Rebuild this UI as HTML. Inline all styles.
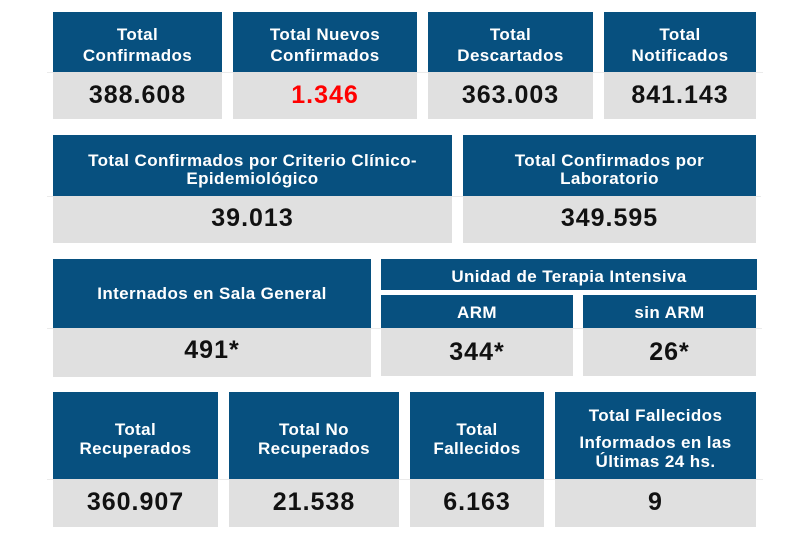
<!DOCTYPE html>
<html>
<head>
<meta charset="utf-8">
<style>
  html, body { margin:0; padding:0; }
  body { width:800px; height:535px; background:#ffffff; position:relative; overflow:hidden;
         font-family:"Liberation Sans", Arial, sans-serif; }
  .h { position:absolute; background:#07507f; }
  .b { position:absolute; background:#e0e0e0; }
  .t { position:absolute; height:20px; line-height:20px; color:#ffffff; font-weight:bold;
       font-size:17px; letter-spacing:0.4px; text-align:center; white-space:nowrap; }
  .n { position:absolute; height:30px; line-height:30px; color:#111111; font-weight:bold;
       font-size:25px; letter-spacing:1px; text-align:center; white-space:nowrap; }
  .ln { position:absolute; height:1px; background:#ebebeb; }
</style>
</head>
<body>

<!-- faint guide lines -->
<div class="ln" style="left:47px;width:716px;top:72px;"></div>
<div class="ln" style="left:47px;width:714px;top:196px;"></div>
<div class="ln" style="left:47px;width:715px;top:328px;"></div>
<div class="ln" style="left:47px;width:716px;top:479px;"></div>

<!-- Row 1 -->
<div class="h" style="left:53px;top:12px;width:169px;height:60px;"></div>
<div class="b" style="left:53px;top:72px;width:169px;height:47px;"></div>
<div class="t" style="left:53px;width:169px;top:25px;">Total</div>
<div class="t" style="left:53px;width:169px;top:46px;">Confirmados</div>
<div class="n" style="left:53px;width:169px;top:80px;">388.608</div>

<div class="h" style="left:233px;top:12px;width:184px;height:60px;"></div>
<div class="b" style="left:233px;top:72px;width:184px;height:47px;"></div>
<div class="t" style="left:233px;width:184px;top:25px;">Total Nuevos</div>
<div class="t" style="left:233px;width:184px;top:46px;">Confirmados</div>
<div class="n" style="left:233px;width:184px;top:80px;color:#ff0000;">1.346</div>

<div class="h" style="left:428px;top:12px;width:165px;height:60px;"></div>
<div class="b" style="left:428px;top:72px;width:165px;height:47px;"></div>
<div class="t" style="left:428px;width:165px;top:25px;">Total</div>
<div class="t" style="left:428px;width:165px;top:46px;">Descartados</div>
<div class="n" style="left:428px;width:165px;top:80px;">363.003</div>

<div class="h" style="left:604px;top:12px;width:152px;height:60px;"></div>
<div class="b" style="left:604px;top:72px;width:152px;height:47px;"></div>
<div class="t" style="left:604px;width:152px;top:25px;">Total</div>
<div class="t" style="left:604px;width:152px;top:46px;">Notificados</div>
<div class="n" style="left:604px;width:152px;top:80px;">841.143</div>

<!-- Row 2 -->
<div class="h" style="left:53px;top:135px;width:399px;height:61px;"></div>
<div class="b" style="left:53px;top:196px;width:399px;height:47px;"></div>
<div class="t" style="left:53px;width:399px;top:151px;">Total Confirmados por Criterio Clínico-</div>
<div class="t" style="left:53px;width:399px;top:169px;">Epidemiológico</div>
<div class="n" style="left:53px;width:399px;top:203px;">39.013</div>

<div class="h" style="left:463px;top:135px;width:293px;height:61px;"></div>
<div class="b" style="left:463px;top:196px;width:293px;height:47px;"></div>
<div class="t" style="left:463px;width:293px;top:151px;">Total Confirmados por</div>
<div class="t" style="left:463px;width:293px;top:169px;">Laboratorio</div>
<div class="n" style="left:463px;width:293px;top:203px;">349.595</div>

<!-- Row 3 -->
<div class="h" style="left:53px;top:259px;width:318px;height:69px;"></div>
<div class="b" style="left:53px;top:328px;width:318px;height:49px;"></div>
<div class="t" style="left:53px;width:318px;top:284px;">Internados en Sala General</div>
<div class="n" style="left:53px;width:318px;top:335px;">491*</div>

<div class="h" style="left:381px;top:259px;width:376px;height:31px;"></div>
<div class="t" style="left:381px;width:376px;top:267px;">Unidad de Terapia Intensiva</div>

<div class="h" style="left:381px;top:295px;width:192px;height:33px;"></div>
<div class="b" style="left:381px;top:328px;width:192px;height:48px;"></div>
<div class="t" style="left:381px;width:192px;top:303px;">ARM</div>
<div class="n" style="left:381px;width:192px;top:337px;">344*</div>

<div class="h" style="left:583px;top:295px;width:173px;height:33px;"></div>
<div class="b" style="left:583px;top:328px;width:173px;height:48px;"></div>
<div class="t" style="left:583px;width:173px;top:303px;">sin ARM</div>
<div class="n" style="left:583px;width:173px;top:337px;">26*</div>

<!-- Row 4 -->
<div class="h" style="left:53px;top:392px;width:165px;height:87px;"></div>
<div class="b" style="left:53px;top:479px;width:165px;height:48px;"></div>
<div class="t" style="left:53px;width:165px;top:420px;">Total</div>
<div class="t" style="left:53px;width:165px;top:439px;">Recuperados</div>
<div class="n" style="left:53px;width:165px;top:487px;">360.907</div>

<div class="h" style="left:229px;top:392px;width:170px;height:87px;"></div>
<div class="b" style="left:229px;top:479px;width:170px;height:48px;"></div>
<div class="t" style="left:229px;width:170px;top:420px;">Total No</div>
<div class="t" style="left:229px;width:170px;top:439px;">Recuperados</div>
<div class="n" style="left:229px;width:170px;top:487px;">21.538</div>

<div class="h" style="left:410px;top:392px;width:134px;height:87px;"></div>
<div class="b" style="left:410px;top:479px;width:134px;height:48px;"></div>
<div class="t" style="left:410px;width:134px;top:420px;">Total</div>
<div class="t" style="left:410px;width:134px;top:439px;">Fallecidos</div>
<div class="n" style="left:410px;width:134px;top:487px;">6.163</div>

<div class="h" style="left:555px;top:392px;width:201px;height:87px;"></div>
<div class="b" style="left:555px;top:479px;width:201px;height:48px;"></div>
<div class="t" style="left:555px;width:201px;top:406px;">Total Fallecidos</div>
<div class="t" style="left:555px;width:201px;top:433px;">Informados en las</div>
<div class="t" style="left:555px;width:201px;top:452px;">Últimas 24 hs.</div>
<div class="n" style="left:555px;width:201px;top:487px;">9</div>

</body>
</html>
